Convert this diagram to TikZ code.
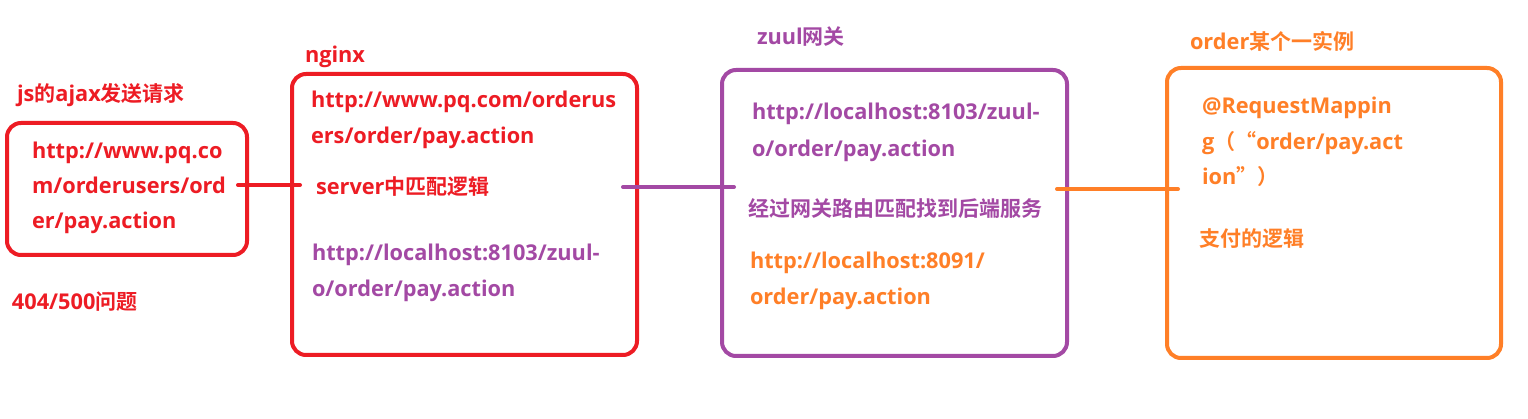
\documentclass[tikz,border=0pt]{standalone}
\usepackage{fontspec}
\setmainfont{Open Sans}[Scale=1.035]
\newfontfamily\cjk{Noto Sans CJK SC}[BoldFont={Noto Sans CJK SC Bold}]
\definecolor{cred}{HTML}{ED1C24}
\definecolor{cpur}{HTML}{A349A4}
\definecolor{cora}{HTML}{FF7F27}
\begin{document}
\begin{tikzpicture}[x=1pt,y=-1pt,
  box/.style={draw=#1, line width=4pt, rounded corners=14pt, inner sep=0, outer sep=0, rectangle},
  conn/.style={draw=#1, line width=4pt, line cap=round},
  txt/.style={anchor=base west, inner sep=0, outer sep=0, text=#1, font=\fontsize{21}{21}\selectfont\bfseries}]
\useasboundingbox[fill=white] (0,0) rectangle (1528,419);
% boxes
\node[box=cred, minimum width=240pt, minimum height=132pt] (b1) at (127,189) {};
\node[box=cred, minimum width=345pt, minimum height=281pt] (b2) at (464.5,214.5) {};
\node[box=cpur, minimum width=345pt, minimum height=286pt] (b3) at (894.5,213) {};
\node[box=cora, minimum width=334pt, minimum height=290pt] (b4) at (1334,213) {};
% connectors
\draw[conn=cred] ([xshift=-9pt,yshift=4pt]b1.east) -- ([xshift=8pt,yshift=4pt]b1.east -| b2.west);
\draw[conn=cpur] ([xshift=-14pt,yshift=27.5pt]b2.east) -- ([xshift=12pt,yshift=27.5pt]b2.east -| b3.west);
\draw[conn=cora] ([xshift=-10pt,yshift=24pt]b3.east) -- ([xshift=11pt,yshift=24pt]b3.east -| b4.west);
% labels
\node[txt=cred] (l1) at (17,102) {js{\cjk 的}ajax{\cjk 发送请求}};
\node[txt=cred] (l2) at (12,310) {404/500{\cjk 问题}};
\node[txt=cred] (l3) at (305,63) {nginx};
\node[txt=cpur] (l4) at (757,45) {zuul{\cjk 网关}};
\node[txt=cora] (l5) at (1190,50) {order{\cjk 某个一实例}};
% box 1
\node[txt=cred] (t11) at (32,159) {http://www.pq.co};
\node[txt=cred] (t12) at (32,194) {m/orderusers/ord};
\node[txt=cred] (t13) at (32,229) {er/pay.action};
% box 2
\node[txt=cred] (t21) at (311,108) {http://www.pq.com/orderus};
\node[txt=cred] (t22) at (311,144) {ers/order/pay.action};
\node[txt=cred] (t23) at (316,195) {server{\cjk 中匹配逻辑}};
\node[txt=cpur] (t24) at (312,261) {http://localhost:8103/zuul-};
\node[txt=cpur] (t25) at (312,297) {o/order/pay.action};
% box 3
\node[txt=cpur] (t31) at (752,120) {http://localhost:8103/zuul-};
\node[txt=cpur] (t32) at (752,157) {o/order/pay.action};
\node[txt=cpur] (t33) at (748,217) {{\cjk 经过网关路由匹配找到后端服务}};
\node[txt=cora] (t34) at (750,269) {http://localhost:8091/};
\node[txt=cora] (t35) at (750,305) {order/pay.action};
% box 4
\node[txt=cora] (t41) at (1202,114) {@RequestMappin};
\node[txt=cora] (t42) at (1202,150) {g{\cjk （“}order/pay.act};
\node[txt=cora] (t43) at (1202,185) {ion{\cjk ”）}};
\node[txt=cora] (t44) at (1199,247) {{\cjk 支付的逻辑}};
\end{tikzpicture}
\end{document}
